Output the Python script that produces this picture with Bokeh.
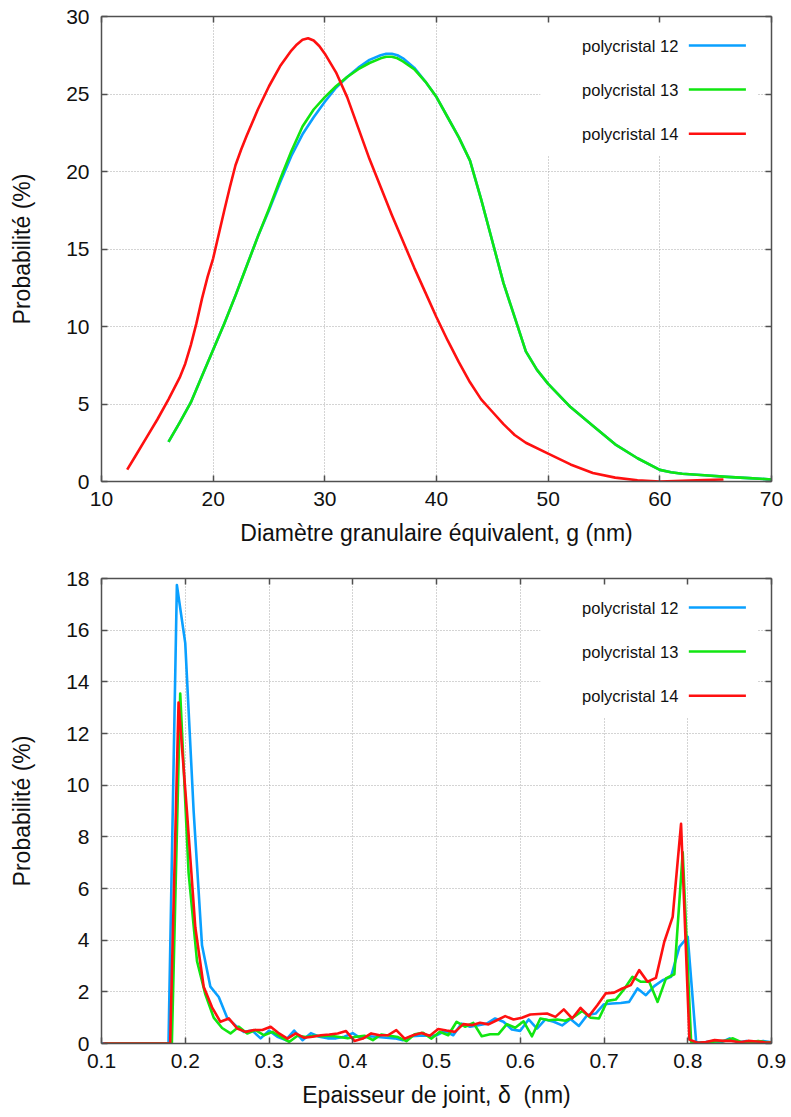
from bokeh.plotting import figure
from bokeh.models import Range1d, FixedTicker, LinearAxis, BoxAnnotation, Label, Arrow, ColumnDataSource
from bokeh.layouts import column
from bokeh.embed import file_html
from bokeh.resources import INLINE

# ---------------- data: grain size distribution (top) ----------------
g_12 = [16, 17, 18, 19, 20, 21, 22, 23, 24, 25, 26, 27, 28, 29, 30, 31, 32, 33, 34, 35, 35.5, 36,
        36.5, 37, 38, 39, 40, 41, 42, 43, 44, 45, 46, 47, 48, 49, 50, 52, 54, 56, 58, 60, 61, 62,
        64, 66, 68, 70]
p_12 = [2.55, 3.8, 5.1, 6.8, 8.5, 10.2, 12.0, 13.9, 15.8, 17.5, 19.3, 21.0, 22.4, 23.5, 24.5, 25.4,
        26.1, 26.7, 27.2, 27.5, 27.6, 27.6, 27.5, 27.3, 26.7, 25.8, 24.8, 23.5, 22.2, 20.7, 18.2,
        15.5, 12.8, 10.6, 8.4, 7.2, 6.3, 4.8, 3.6, 2.4, 1.5, 0.75, 0.6, 0.5, 0.4, 0.3, 0.22, 0.13]
g_13 = g_12
p_13 = [2.55, 3.8, 5.1, 6.8, 8.5, 10.2, 12.0, 13.9, 15.8, 17.6, 19.5, 21.3, 22.9, 24.0, 24.8, 25.5,
        26.1, 26.6, 27.0, 27.3, 27.4, 27.4, 27.3, 27.1, 26.6, 25.8, 24.8, 23.5, 22.2, 20.7, 18.2,
        15.5, 12.8, 10.6, 8.4, 7.2, 6.3, 4.8, 3.6, 2.4, 1.5, 0.75, 0.6, 0.5, 0.4, 0.3, 0.22, 0.13]
g_14 = [12.3, 13, 14, 15, 16, 17, 17.5, 18, 18.5, 19, 19.5, 20, 21, 21.5, 22, 22.5, 23, 24, 25, 26,
        27, 27.5, 28, 28.5, 29, 29.5, 30, 31, 32, 33, 34, 35, 36, 37, 38, 39, 40, 41, 42, 43, 44,
        45, 46, 47, 48, 50, 52, 54, 56, 58, 60, 62, 64, 65.7]
p_14 = [0.77, 1.6, 2.8, 4.0, 5.3, 6.7, 7.6, 8.8, 10.2, 11.8, 13.2, 14.4, 17.5, 19.0, 20.4, 21.4,
        22.3, 24.0, 25.5, 26.8, 27.8, 28.2, 28.5, 28.6, 28.45, 28.1, 27.6, 26.4, 24.8, 22.8, 20.8,
        19.0, 17.2, 15.5, 13.8, 12.2, 10.6, 9.1, 7.7, 6.4, 5.3, 4.5, 3.7, 3.0, 2.5, 1.8, 1.1, 0.55,
        0.25, 0.08, 0.0, 0.05, 0.1, 0.13]

# ---------------- data: joint thickness distribution (bottom) ----------------
delta = [0.10, 0.11, 0.12, 0.13, 0.14, 0.15, 0.16, 0.17, 0.18, 0.19, 0.20, 0.21, 0.22, 0.23, 0.24,
         0.25, 0.26, 0.27, 0.28, 0.29, 0.30, 0.31, 0.32, 0.33, 0.34, 0.35, 0.36, 0.37, 0.38, 0.39,
         0.40, 0.41, 0.42, 0.43, 0.44, 0.45, 0.46, 0.47, 0.48, 0.49, 0.50, 0.51, 0.52, 0.53, 0.54,
         0.55, 0.56, 0.57, 0.58, 0.59, 0.60, 0.61, 0.62, 0.63, 0.64, 0.65, 0.66, 0.67, 0.68, 0.69,
         0.70, 0.71, 0.72, 0.73, 0.74, 0.75, 0.76, 0.77, 0.78, 0.79, 0.80, 0.81, 0.82, 0.83, 0.84,
         0.85, 0.86, 0.87, 0.88, 0.89, 0.90]
# small bin offsets of each polycrystal's histogram
shift_12, shift_13, shift_14 = 0.0, 0.004, 0.002

j_12 = [0, 0, 0, 0, 0, 0, 0, 0, 0,
        17.75, 15.5, 9.0, 3.8, 2.2, 1.8, 1.0, 0.7, 0.45, 0.5, 0.2, 0.5, 0.26, 0.13, 0.5, 0.13, 0.4,
        0.26, 0.2, 0.2, 0.26, 0.4, 0.19, 0.28, 0.25, 0.22, 0.2, 0.13, 0.28, 0.3, 0.3, 0.32, 0.48,
        0.32, 0.77, 0.65, 0.71, 0.77, 0.97, 0.84, 0.54, 0.49, 0.93, 0.58, 0.93, 0.84, 0.7, 0.95,
        0.68, 1.1, 1.16, 1.52, 1.55, 1.57, 1.61, 2.13, 1.87, 2.22, 2.45, 2.58, 3.74, 4.13,
        0.06, 0.05, 0.1, 0.05, 0.2, 0.05, 0.1, 0.05, 0.1, 0.05]
j_13 = [0, 0, 0, 0, 0, 0, 0, 0, 0,
        13.55, 6.6, 3.2, 1.9, 1.0, 0.6, 0.39, 0.65, 0.39, 0.52, 0.32, 0.45, 0.26, 0.06, 0.3, 0.25,
        0.3, 0.28, 0.3, 0.25, 0.2, 0.26, 0.3, 0.13, 0.35, 0.3, 0.25, 0.09, 0.36, 0.41, 0.19, 0.45,
        0.32, 0.84, 0.65, 0.8, 0.28, 0.36, 0.36, 0.75, 0.61,
        0.86, 0.28, 0.97, 0.9, 0.93, 0.88, 1.03, 1.26, 1.0,
        0.97, 1.65, 1.7, 2.1, 2.58, 2.39, 2.39, 1.61, 2.52, 2.68, 7.4, 0.06,
        0.02, 0.05, 0.08, 0.1, 0.2, 0.05, 0.05, 0.1, 0.05, 0.05]
j_14 = [0, 0, 0, 0, 0, 0, 0, 0, 0,
        13.2, 9.0, 4.5, 2.2, 1.4, 0.84, 0.97, 0.58, 0.45, 0.52, 0.52, 0.65, 0.39, 0.19, 0.39, 0.22,
        0.26, 0.32, 0.35, 0.39, 0.48, 0.1, 0.19, 0.39, 0.32, 0.32, 0.52, 0.19, 0.32, 0.41, 0.3,
        0.56, 0.5, 0.45, 0.75, 0.71, 0.8, 0.74, 0.9, 1.06, 0.93, 1.0, 1.12, 1.14, 1.16, 1.03, 1.32,
        0.97, 1.38, 1.06, 1.48, 1.94, 1.97, 2.13, 2.26, 2.84, 2.39, 2.54, 3.94, 4.9, 8.5, 0.15,
        0.03, 0.06, 0.13, 0.1, 0.1, 0.05, 0.1, 0.08, 0.05, 0.03]

labels = ["polycristal 12", "polycristal 13", "polycristal 14"]
colors = ["#0aa0ff", "#11e611", "#ff1010"]

top_xticks = [10, 20, 30, 40, 50, 60, 70]
top_yticks = [0, 5, 10, 15, 20, 25, 30]
bot_xticks = [0.1, 0.2, 0.3, 0.4, 0.5, 0.6, 0.7, 0.8, 0.9]
bot_xlabels = ["0.1", "0.2", "0.3", "0.4", "0.5", "0.6", "0.7", "0.8", "0.9"]
bot_yticks = [0, 2, 4, 6, 8, 10, 12, 14, 16, 18]

FONT = "Liberation Sans"
TICK_FS = "21px"
LAB_FS = "23px"
LEG_FS = "16.5px"
AX_COL = "#505050"


def style_axis(ax, show_labels, ticks, overrides=None):
    ax.ticker = FixedTicker(ticks=ticks)
    ax.minor_tick_line_color = None
    ax.major_tick_in = 6
    ax.major_tick_out = 0
    ax.major_tick_line_color = AX_COL
    ax.major_tick_line_width = 1.5
    ax.axis_line_color = AX_COL
    ax.axis_line_width = 1.5
    if show_labels:
        if overrides:
            ax.major_label_overrides = overrides
        ax.major_label_text_font = FONT
        ax.major_label_text_font_size = TICK_FS
        ax.major_label_text_color = "#111111"
        ax.axis_label_text_font = FONT
        ax.axis_label_text_font_size = LAB_FS
        ax.axis_label_text_font_style = "normal"
        ax.axis_label_text_color = "#111111"
    else:
        ax.major_label_overrides = {t: "" for t in ticks}
        ax.major_label_standoff = 0
        ax.axis_label = None


def make_fig(xr, yr, xticks, yticks, xlabel, ylabel, series, xover=None,
             height=556, border_top=8, border_bottom=70):
    p = figure(width=787, height=height, x_range=Range1d(*xr), y_range=Range1d(*yr),
               output_backend="svg", toolbar_location=None,
               min_border_left=101, min_border_right=16,
               min_border_top=border_top, min_border_bottom=border_bottom)
    p.outline_line_color = None
    p.background_fill_color = "white"
    p.border_fill_color = "white"

    style_axis(p.xaxis[0], True, xticks, xover)
    style_axis(p.yaxis[0], True, yticks)
    p.xaxis[0].axis_label = xlabel
    p.yaxis[0].axis_label = ylabel
    p.xaxis[0].major_label_standoff = 10
    p.xaxis[0].axis_label_standoff = 11
    p.yaxis[0].major_label_standoff = 12
    p.yaxis[0].axis_label_standoff = 28

    top_ax = LinearAxis()
    style_axis(top_ax, False, xticks)
    p.add_layout(top_ax, "above")
    right_ax = LinearAxis()
    style_axis(right_ax, False, yticks)
    p.add_layout(right_ax, "right")

    for g in (p.xgrid[0], p.ygrid[0]):
        g.grid_line_color = "#a8a8a8"
        g.grid_line_dash = "1 2"
        g.grid_line_width = 1
    p.xgrid[0].ticker = FixedTicker(ticks=xticks[1:-1])
    p.ygrid[0].ticker = FixedTicker(ticks=yticks[1:-1])

    x0, x1 = xr
    y0, y1 = yr
    fx = lambda f: x0 + f * (x1 - x0)
    fy = lambda f: y1 - f * (y1 - y0)

    # white legend background hiding the grid
    box = BoxAnnotation(left=fx(0.655), right=fx(0.979), top=fy(0.0), bottom=fy(0.299),
                        fill_color="white", fill_alpha=1.0, line_color=None, level="underlay")
    p.add_layout(box)

    for (xs, ys), col in zip(series, colors):
        src = ColumnDataSource(dict(x=xs, y=ys))
        p.line("x", "y", source=src, line_color=col, line_width=2.6, line_join="round")

    rows = [0.0624, 0.157, 0.252]
    for lab, col, r in zip(labels, colors, rows):
        p.add_layout(Label(x=fx(0.861), y=fy(r), text=lab, text_align="right",
                           text_baseline="middle", text_font=FONT, text_font_size=LEG_FS,
                           text_color="#111111"))
        p.add_layout(Arrow(end=None, x_start=fx(0.8766), y_start=fy(r), x_end=fx(0.9618),
                           y_end=fy(r), line_color=col, line_width=2.6))
    return p


top = make_fig((10, 70), (0, 30), top_xticks, top_yticks,
               "Diamètre granulaire équivalent, g (nm)", "Probabilité (%)",
               [(g_12, p_12), (g_13, p_13), (g_14, p_14)],
               height=559, border_top=16, border_bottom=78)

x12 = [d + shift_12 for d in delta]
x13 = [d + shift_13 for d in delta]
x14 = [d + shift_14 for d in delta]
bot = make_fig((0.1, 0.9), (0, 18), bot_xticks, bot_yticks,
               "Epaisseur de joint, δ\u00a0 (nm)", "Probabilité (%)",
               [(x12, j_12), (x13, j_13), (x14, j_14)],
               xover={t: s for t, s in zip(bot_xticks, bot_xlabels)},
               height=557, border_top=19, border_bottom=73)

layout = column(top, bot, spacing=0)
open("out.html", "w").write(file_html(layout, INLINE))
